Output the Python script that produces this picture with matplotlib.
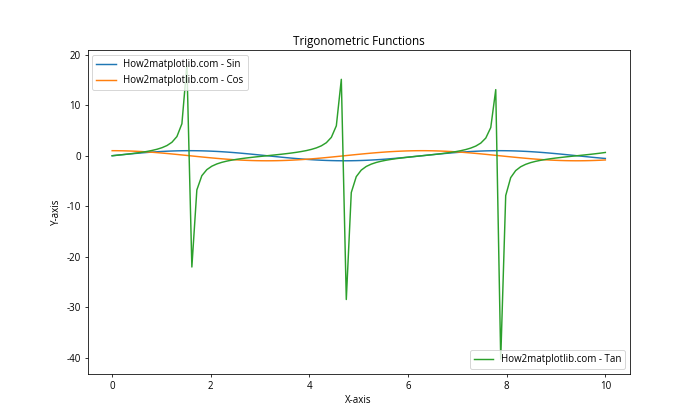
import numpy as np
from matplotlib import pyplot as plt

plt.rcParams['font.family'] = ['Open Sans', 'DejaVu Sans']
plt.rcParams['axes.unicode_minus'] = False

# 100 samples between 0 and 10
x = np.linspace(0, 10, 100)

sin_vals = [0.000, 0.101, 0.201, 0.298, 0.393, 0.484, 0.570, 0.650, 0.723, 0.789,
            0.847, 0.896, 0.937, 0.967, 0.988, 0.999, 0.999, 0.989, 0.970, 0.940,
            0.901, 0.853, 0.795, 0.730, 0.657, 0.578, 0.492, 0.401, 0.307, 0.210,
            0.111, 0.010, -0.091, -0.191, -0.289, -0.384, -0.475, -0.561, -0.642, -0.716,
            -0.783, -0.841, -0.892, -0.933, -0.964, -0.986, -0.998, -0.999, -0.991, -0.972,
            -0.944, -0.905, -0.857, -0.801, -0.736, -0.664, -0.585, -0.501, -0.412, -0.319,
            -0.222, -0.121, -0.021, 0.080, 0.181, 0.279, 0.374, 0.466, 0.553, 0.634,
            0.709, 0.776, 0.836, 0.887, 0.929, 0.962, 0.984, 0.997, 1.000, 0.992,
            0.975, 0.947, 0.909, 0.863, 0.807, 0.744, 0.672, 0.594, 0.510, 0.421,
            0.328, 0.232, 0.132, 0.031, -0.070, -0.170, -0.269, -0.365, -0.457, -0.544]

cos_vals = [1.000, 0.995, 0.980, 0.954, 0.920, 0.875, 0.822, 0.760, 0.691, 0.615,
            0.532, 0.444, 0.351, 0.254, 0.156, 0.056, -0.045, -0.146, -0.245, -0.341,
            -0.434, -0.523, -0.606, -0.684, -0.754, -0.816, -0.871, -0.916, -0.952, -0.978,
            -0.994, -1.000, -0.996, -0.982, -0.957, -0.924, -0.880, -0.828, -0.767, -0.698,
            -0.622, -0.541, -0.453, -0.361, -0.265, -0.166, -0.066, 0.035, 0.136, 0.235,
            0.331, 0.425, 0.515, 0.599, 0.677, 0.748, 0.811, 0.865, 0.911, 0.948,
            0.975, 0.993, 1.000, 0.997, 0.984, 0.960, 0.927, 0.885, 0.834, 0.773,
            0.706, 0.630, 0.549, 0.462, 0.371, 0.275, 0.176, 0.076, -0.025, -0.126,
            -0.225, -0.321, -0.416, -0.506, -0.591, -0.669, -0.741, -0.805, -0.860, -0.907,
            -0.945, -0.973, -0.991, -1.000, -0.998, -0.985, -0.963, -0.931, -0.890, -0.839]

tan_vals = [0.000, 0.101, 0.205, 0.313, 0.428, 0.553, 0.693, 0.854, 1.046, 1.283,
            1.592, 2.020, 2.670, 3.802, 6.34, 17.96, -22.05, -6.776, -3.957, -2.759,
            -2.077, -1.631, -1.312, -1.068, -0.872, -0.708, -0.565, -0.438, -0.323, -0.214,
            -0.112, -0.010, 0.091, 0.194, 0.301, 0.416, 0.540, 0.678, 0.837, 1.025,
            1.258, 1.557, 1.968, 2.585, 3.645, 5.933, 15.14, -28.49, -7.295, -4.144,
            -2.850, -2.128, -1.665, -1.336, -1.087, -0.889, -0.722, -0.579, -0.452, -0.336,
            -0.227, -0.122, -0.021, 0.081, 0.184, 0.290, 0.403, 0.526, 0.663, 0.820,
            1.004, 1.231, 1.523, 1.919, 2.507, 3.501, 5.583, 13.10, -40.30, -7.899,
            -4.339, -2.946, -2.187, -1.706, -1.366, -1.111, -0.907, -0.738, -0.593, -0.464,
            -0.348, -0.238, -0.133, -0.031, 0.070, 0.173, 0.279, 0.392, 0.513, 0.648]

fig, ax = plt.subplots(figsize=(10, 6), dpi=70)
l1, = ax.plot(x, sin_vals, label='How2matplotlib.com - Sin')
l2, = ax.plot(x, cos_vals, label='How2matplotlib.com - Cos')
l3, = ax.plot(x, tan_vals, label='How2matplotlib.com - Tan')

first_legend = ax.legend(handles=[l1, l2], loc='upper left')
ax.add_artist(first_legend)
ax.legend(handles=[l3], loc='lower right')

ax.set_title('Trigonometric Functions')
ax.set_xlabel('X-axis')
ax.set_ylabel('Y-axis')

fig.savefig('out.png')
